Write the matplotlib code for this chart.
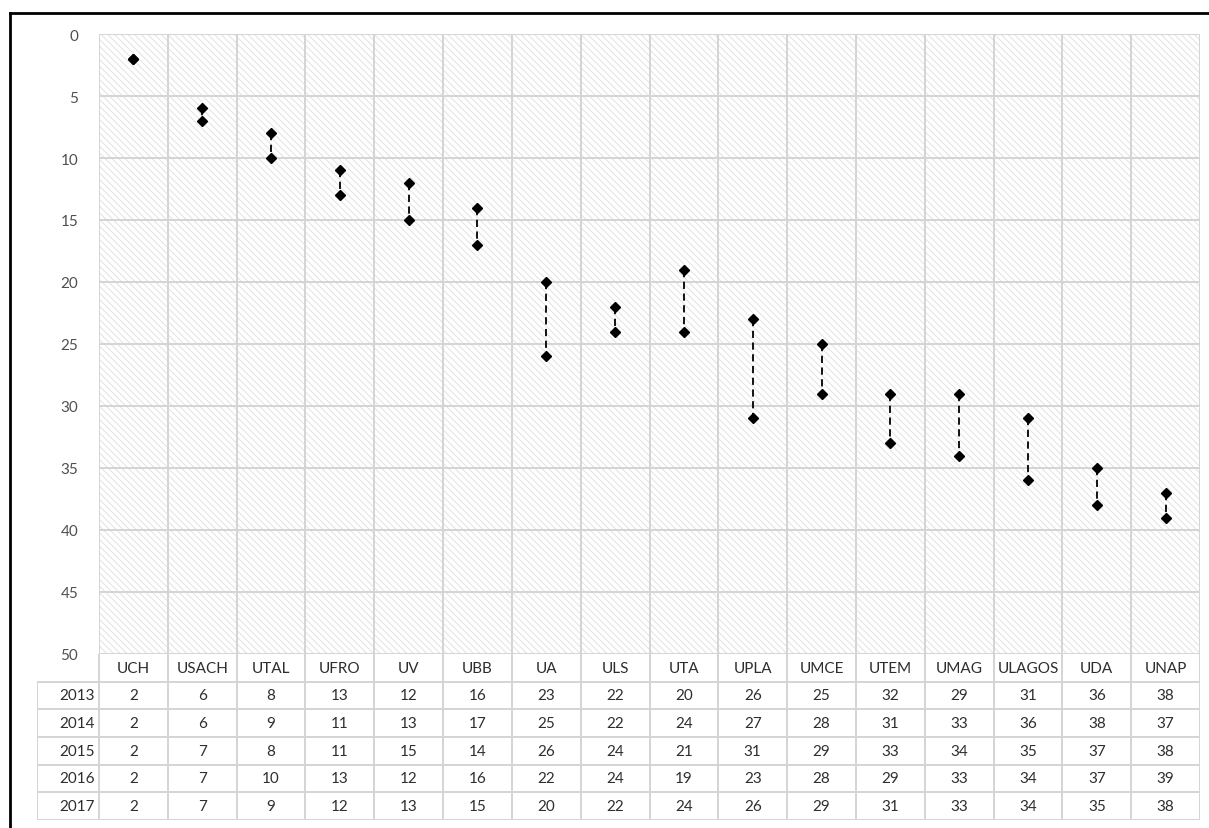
import matplotlib
matplotlib.use("Agg")
import matplotlib.pyplot as plt
from matplotlib.patches import Rectangle
from matplotlib.lines import Line2D
import numpy as np

plt.rcParams['font.family'] = ['Lato', 'DejaVu Sans']
plt.rcParams['hatch.color'] = '#e2e2e2'
plt.rcParams['hatch.linewidth'] = 0.7

# ranking of each university per year
universities = ["UCH", "USACH", "UTAL", "UFRO", "UV", "UBB", "UA", "ULS", "UTA",
                "UPLA", "UMCE", "UTEM", "UMAG", "ULAGOS", "UDA", "UNAP"]
years = ["2013", "2014", "2015", "2016", "2017"]
r2013 = [2, 6, 8, 13, 12, 16, 23, 22, 20, 26, 25, 32, 29, 31, 36, 38]
r2014 = [2, 6, 9, 11, 13, 17, 25, 22, 24, 27, 28, 31, 33, 36, 38, 37]
r2015 = [2, 7, 8, 11, 15, 14, 26, 24, 21, 31, 29, 33, 34, 35, 37, 38]
r2016 = [2, 7, 10, 13, 12, 16, 22, 24, 19, 23, 28, 29, 33, 34, 37, 39]
r2017 = [2, 7, 9, 12, 13, 15, 20, 22, 24, 26, 29, 31, 33, 34, 35, 38]
rows = [r2013, r2014, r2015, r2016, r2017]

data = np.array(rows)
best = data.min(axis=0)
worst = data.max(axis=0)
x = np.arange(len(universities))

W, H = 1209, 829
fig = plt.figure(figsize=(W / 100, H / 100), dpi=100)

# frame lines (left and top)
fig.add_artist(Line2D([10 / W, 10 / W], [0, 1 - 14 / H], color='black', lw=2))
fig.add_artist(Line2D([10 / W, 1], [1 - 14 / H, 1 - 14 / H], color='black', lw=2))

# main plot
left, right, top, bottom = 99, 1200, 35, 655
ax = fig.add_axes([left / W, 1 - bottom / H, (right - left) / W, (bottom - top) / H])
ax.add_patch(Rectangle((0, 0), 1, 1, transform=ax.transAxes, facecolor='white',
                       edgecolor='#e2e2e2', hatch='\\\\\\\\\\', lw=0, zorder=0))
ax.set_xlim(-0.5, len(universities) - 0.5)
ax.set_ylim(50, 0)
ax.set_yticks(range(0, 51, 5))
ax.set_xticks([])
ax.set_xticks(np.arange(-0.5, len(universities), 1), minor=True)
ax.grid(axis='y', which='major', color='#d4d4d4', lw=1.4)
ax.grid(axis='x', which='minor', color='#d4d4d4', lw=1.4)
ax.tick_params(axis='y', length=0, pad=15, labelsize=11, labelcolor='#505050')
ax.tick_params(axis='x', which='both', length=0)
for s in ax.spines.values():
    s.set_visible(False)
ax.set_axisbelow(True)

ax.vlines(x, best, worst, colors='black', linestyles=(0, (4, 2.5)), lw=1.3, zorder=2)
ax.plot(x, best, 'D', color='black', ms=5, zorder=3)
ax.plot(x, worst, 'D', color='black', ms=5, zorder=3)

# data table under the plot
tleft, tbottom = 37, 821
label_w = (left - tleft) / ((right - left) / len(universities))
tax = fig.add_axes([tleft / W, 1 - tbottom / H, (right - tleft) / W, (tbottom - bottom) / H])
tax.set_xlim(-0.5 - label_w, len(universities) - 0.5)
tax.set_ylim(len(years) + 1, 0)
tax.axis('off')

gc = '#d4d4d4'
for b in np.arange(-0.5, len(universities), 1):
    tax.plot([b, b], [0, len(years) + 1], color=gc, lw=1.4)
tax.plot([-0.5 - label_w] * 2, [1, len(years) + 1], color=gc, lw=1.4)
for r in range(1, len(years) + 2):
    tax.plot([-0.5 - label_w, len(universities) - 0.5], [r, r], color=gc, lw=1.4)

tc = '#2e2e2e'
for i, name in enumerate(universities):
    tax.text(i, 0.5, name, ha='center', va='center', fontsize=11, color=tc)
for r, (yr, vals) in enumerate(zip(years, rows), start=1):
    tax.text(-0.5 - 0.06, r + 0.5, yr, ha='right', va='center', fontsize=11, color=tc)
    for i, v in enumerate(vals):
        tax.text(i, r + 0.5, str(v), ha='center', va='center', fontsize=11, color=tc)

fig.savefig("out.png", dpi=100)
